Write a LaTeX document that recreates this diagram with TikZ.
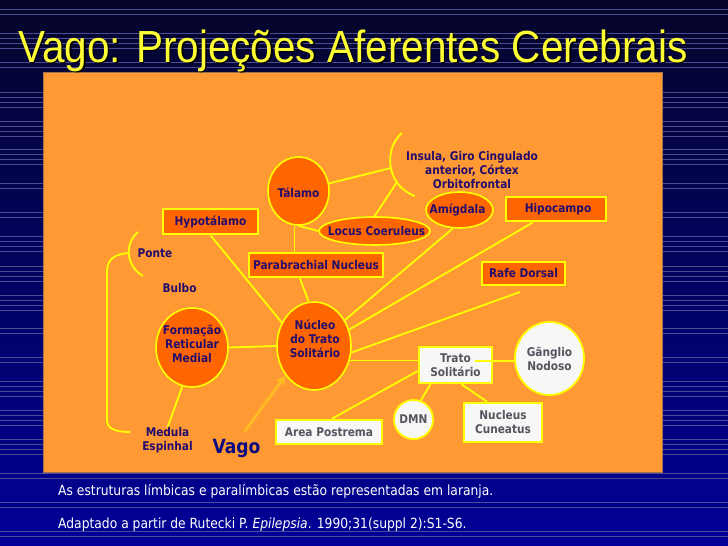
\documentclass[tikz,border=0pt]{standalone}
\usepackage{fontspec}
\setmainfont{Liberation Sans}
\newfontfamily\titlefont[FakeStretch=0.9]{Liberation Sans}
\newfontfamily\tah[FakeStretch=0.88]{DejaVu Sans}
\usetikzlibrary{shapes.geometric,arrows.meta,calc}
\definecolor{panelor}{HTML}{FF9933}
\definecolor{nodeor}{HTML}{FF6600}
\definecolor{yel}{HTML}{FFFF00}
\definecolor{ink}{HTML}{230C6E}
\definecolor{grayink}{HTML}{555560}
\definecolor{wfill}{HTML}{F7F7F7}
\definecolor{navytop}{HTML}{05052A}
\definecolor{navybot}{HTML}{000098}
\definecolor{rulec}{HTML}{4C4C94}
\definecolor{titley}{HTML}{FFFF33}
\definecolor{vagoblue}{HTML}{0A0A80}
\definecolor{arrowor}{HTML}{FFBB22}
\definecolor{panelrim}{HTML}{A07050}
\pgfdeclarelayer{back}
\pgfdeclarelayer{conns}
\pgfsetlayers{back,conns,main}
\tikzset{
  conn/.style={draw=yel, line width=1.8pt},
  lbl/.style={font=\tah\bfseries\fontsize{12}{14}\selectfont, text=ink, align=center, inner sep=0pt},
  wlbl/.style={lbl, text=grayink},
  oell/.style={ellipse, draw=yel, fill=nodeor, line width=1.6pt, inner sep=0pt},
  well/.style={ellipse, draw=yel, fill=wfill, line width=1.8pt, inner sep=0pt},
  obox/.style={rectangle, draw=yel, fill=nodeor, line width=2.6pt, inner sep=0pt, lbl},
  wbox/.style={rectangle, draw=yel, fill=wfill, line width=2.6pt, inner sep=0pt, wlbl},
  vagoarr/.style={draw=arrowor, line width=3pt, -{Triangle[length=9pt,width=9pt]}},
  rulestyle/.style={draw=rulec, line width=0.6pt},
  foot/.style={font=\tah\fontsize{14}{16}\selectfont, text=white, inner sep=0pt, anchor=base west},
  titlestyle/.style={anchor=base west, font=\titlefont\fontsize{45}{48}\selectfont, inner sep=0pt},
}
\begin{document}
\begin{tikzpicture}[x=1pt,y=-1pt]
\useasboundingbox (0,0) rectangle (728,546);
\begin{pgfonlayer}{back}
  \shade[top color=navytop, bottom color=navybot] (0,0) rectangle (728,546);
  \foreach \yy in {9,14,33,38,43,48,62,67,92,97,102,107,121,126,131,136,149,154,159,164,183,188,212,217,236,241,246,251,266,271,276,281,295,300,305,310,328,333,357,362,381,386,391,396,410,415,420,425,439,444,449,454,473,478,502,507,531,536}
    \draw[rulestyle] (0,\yy) -- (728,\yy);
  \filldraw[fill=panelor, draw=panelrim, line width=0.8pt] (43,72.5) rectangle (662,472.5);
\end{pgfonlayer}

% title and footnotes
\node[titlestyle, text=black] (titleshadow) at (19.5,63.5) {Vago: Projeções Aferentes Cerebrais};
\node[titlestyle, text=titley] (title) at (18,62) {Vago: Projeções Aferentes Cerebrais};
\node[foot] (foot1) at (58,495) {As estruturas límbicas e paralímbicas estão representadas em laranja.};
\node[foot] (foot2) at (58,528) {Adaptado a partir de Rutecki P. \textit{Epilepsia}. 1990;31(suppl 2):S1-S6.};

% nodes
\node[oell, minimum width=61pt, minimum height=68pt, label={[lbl,yshift=-1.5pt]center:Tálamo}] (talamo) at (298.5,191) {};
\node[lbl] (insula) at (472,170) {Insula, Giro Cingulado\\anterior, Córtex\\Orbitofrontal};
\node[oell, minimum width=111pt, minimum height=28pt, label={[lbl,xshift=2pt]center:Locus Coeruleus}] (locus) at (374.5,231) {};
\node[oell, minimum width=67pt, minimum height=36pt, label={[lbl,xshift=-2pt]center:Amígdala}] (amig) at (459.5,210) {};
\node[obox, minimum width=100pt, minimum height=24pt] (hipo) at (556,209) {\hspace{4pt}Hipocampo};
\node[obox, minimum width=83pt, minimum height=23pt] (rafe) at (523.5,273.5) {Rafe Dorsal};
\node[obox, minimum width=95pt, minimum height=25pt] (hypo) at (210.5,221.5) {Hypotálamo};
\node[obox, minimum width=134pt, minimum height=24pt] (para) at (316,265) {Parabrachial Nucleus};
\node[lbl] (ponte) at (155,253) {Ponte};
\node[lbl] (bulbo) at (179.5,288) {Bulbo};
\node[oell, minimum width=72pt, minimum height=79pt, label={[lbl,yshift=4pt]center:{Formação\\Reticular\\Medial}}] (frm) at (192,347.5) {};
\node[oell, minimum width=74pt, minimum height=88pt, label={[lbl,yshift=7pt,xshift=1pt]center:{Núcleo\\do Trato\\Solitário}}] (nts) at (314,346) {};
\node[lbl] (medula) at (167.5,440.5) {Medula\\Espinhal};
\node[font=\tah\bfseries\fontsize{19.5}{22}\selectfont, text=vagoblue, inner sep=0pt] (vago) at (236.5,448) {Vago};
\node[wbox, minimum width=106pt, minimum height=24pt] (area) at (329,432) {Area Postrema};
\node[well, minimum size=39pt, label={[wlbl]center:DMN}] (dmn) at (413.5,419.5) {};
\node[wbox, minimum width=73pt, minimum height=36pt] (trato) at (455.5,365) {Trato\\Solitário};
\node[well, minimum width=69pt, minimum height=73pt, label={[wlbl]center:{Gãnglio\\Nodoso}}] (gang) at (549.5,358.5) {};
\node[wbox, minimum width=78pt, minimum height=39pt] (cun) at (503,422.5) {Nucleus\\Cuneatus};

% named free ends
\coordinate (insTop) at (402,133);
\coordinate (insBot) at (415,196);
\coordinate (insA) at (391,168);
\coordinate (insB) at (397,182);
\coordinate (rafeEnd) at (520,292);
\coordinate (tsIn) at (475,361);
\coordinate (pTop) at (138,232);
\coordinate (pMid) at (129,253);
\coordinate (pBot) at (143,276);
\coordinate (bEnd) at (130,432);

\begin{pgfonlayer}{conns}
  \draw[conn] (insTop) .. controls (384,148) and (385,185) .. (insBot);
  \draw[conn] (pTop) .. controls (124,244) and (126,266) .. (pBot);
  \draw[conn] (pMid) .. controls (116,254) and (107,258) .. (107,272) -- (107,420) .. controls (107,428) and (114,432) .. (bEnd);
  \draw[conn] (talamo) -- (insA);
  \draw[conn] (talamo.south) -- (locus.west);
  \draw[conn] ([xshift=-4pt]talamo.south) -- ([xshift=-4pt]talamo.south |- para.north);
  \draw[conn] (locus.north) -- (insB);
  \draw[conn] (hypo.south) -- (nts.144);
  \draw[conn] ([xshift=-16pt]para.south) -- (nts.97);
  \draw[conn] (nts.40) -- (amig.250);
  \draw[conn] (nts.25) -- ([xshift=-23pt]hipo.south);
  \draw[conn] (nts.-10) -- (rafeEnd);
  \draw[conn] (nts.-22) -- (nts.-22 -| trato.west);
  \draw[conn] ([yshift=-6pt]trato.west) -- ([xshift=3pt]area.north);
  \draw[conn] ([xshift=-25pt]trato.south) -- (dmn.69);
  \draw[conn] ([xshift=6pt]trato.south) -- ([xshift=-16pt]cun.north);
  \draw[conn] (frm.east) -- (nts.west);
  \draw[conn] (frm.256) -- (medula.north);
\end{pgfonlayer}
\draw[conn] (tsIn) -- (tsIn -| gang.west);
\draw[vagoarr] ([xshift=8pt,yshift=7pt]vago.north) -- (nts.226);
\end{tikzpicture}
\end{document}
